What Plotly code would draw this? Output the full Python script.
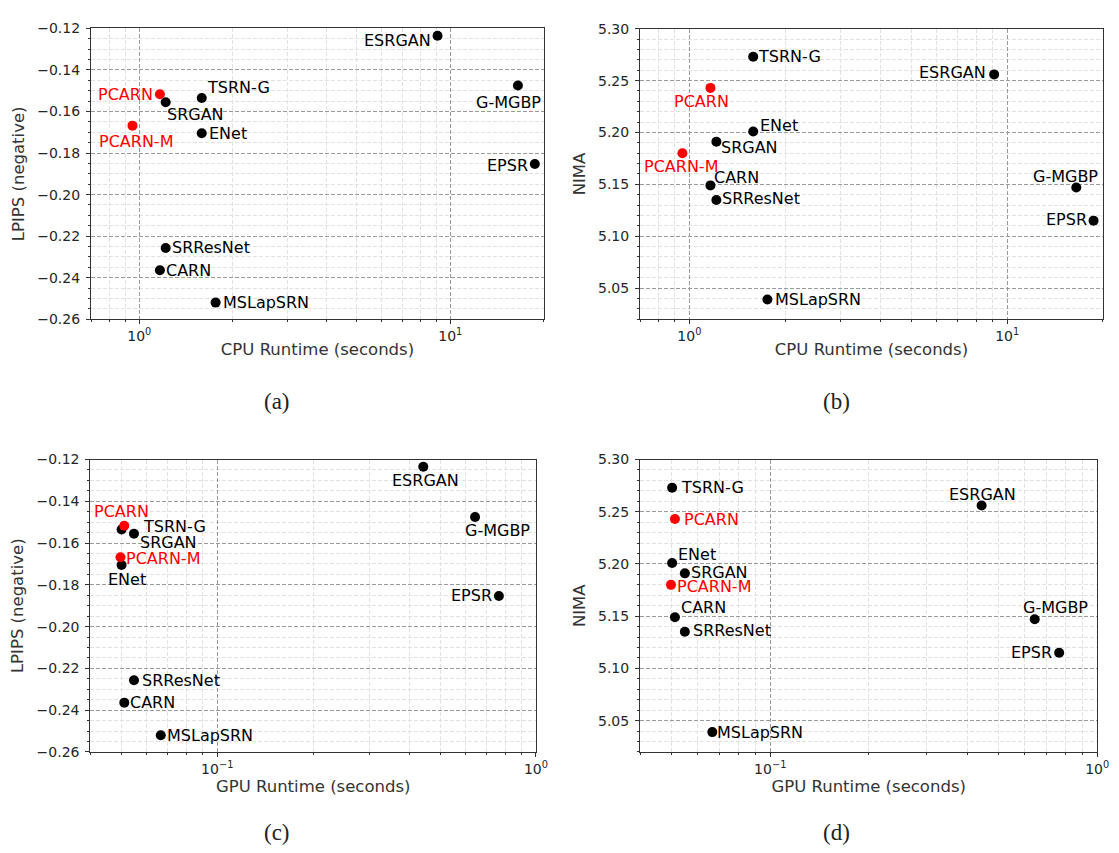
import numpy as np
import plotly.graph_objects as go

# ---------------- data ----------------
methods = ["ESRGAN", "G-MGBP", "EPSR", "PCARN", "SRGAN", "TSRN-G",
           "PCARN-M", "ENet", "SRResNet", "CARN", "MSLapSRN"]
cpu_runtime = [9.1, 16.5, 18.7, 1.165, 1.216, 1.588, 0.951, 1.588, 1.216, 1.165, 1.76]
gpu_runtime = [0.443, 0.644, 0.765, 0.0511, 0.0548, 0.0501, 0.0497, 0.0501, 0.0548, 0.0511, 0.0665]
lpips_neg = [-0.1235, -0.1475, -0.1853, -0.1517, -0.1555, -0.1535, -0.1668,
             -0.1705, -0.2257, -0.2364, -0.2520]
nima = [5.256, 5.147, 5.115, 5.243, 5.191, 5.273, 5.180, 5.201, 5.135, 5.149, 5.039]
highlight = ["PCARN", "PCARN-M"]

lpips_ticks = [-0.26, -0.24, -0.22, -0.20, -0.18, -0.16, -0.14, -0.12]
nima_ticks = [5.05, 5.10, 5.15, 5.20, 5.25, 5.30]
cpu_ticks = [1, 10]
cpu_ticktext = ["10<sup>0</sup>", "10<sup>1</sup>"]
gpu_ticks = [0.1, 1]
gpu_ticktext = ["10<sup>\u22121</sup>", "10<sup>0</sup>"]
captions = ["(a)", "(b)", "(c)", "(d)"]

# ---------------- label placement (style) ----------------
# (xanchor, xshift, yshift) in pixels
offs_a = {"ESRGAN": ("right", -6, -5), "G-MGBP": ("center", -9, -17),
          "EPSR": ("right", -6, -1), "PCARN": ("right", -6, 0),
          "SRGAN": ("left", 0, -12), "TSRN-G": ("left", 4, 11),
          "PCARN-M": ("center", 4, -16), "ENet": ("left", 6, 0),
          "SRResNet": ("left", 5, 0), "CARN": ("left", 5, 0),
          "MSLapSRN": ("left", 6, 0)}
offs_b = {"TSRN-G": ("left", 4, 0), "ESRGAN": ("right", -7, 2),
          "PCARN": ("center", -9, -14), "ENet": ("left", 6, 6),
          "SRGAN": ("left", 4, -6), "PCARN-M": ("center", -1, -13),
          "CARN": ("left", 3, 8), "SRResNet": ("left", 5, 1),
          "G-MGBP": ("center", -11, 11), "EPSR": ("right", -6, 1),
          "MSLapSRN": ("left", 7, 0)}
offs_c = {"ESRGAN": ("center", 2, -14), "G-MGBP": ("center", 22, -14),
          "EPSR": ("right", -6, 0), "PCARN": ("center", -3, 14),
          "TSRN-G": ("left", 20, 3), "SRGAN": ("left", 5, -9),
          "PCARN-M": ("left", 5, -1), "ENet": ("center", 5, -14),
          "SRResNet": ("left", 7, 0), "CARN": ("left", 5, 0),
          "MSLapSRN": ("left", 5, 0)}
offs_d = {"TSRN-G": ("left", 8, 0), "ESRGAN": ("center", 1, 11),
          "PCARN": ("left", 8, 0), "ENet": ("left", 5, 8),
          "SRGAN": ("left", 5, 1), "PCARN-M": ("left", 5, -2),
          "CARN": ("left", 5, 10), "SRResNet": ("left", 7, 1),
          "G-MGBP": ("center", 21, 12), "EPSR": ("right", -6, 0),
          "MSLapSRN": ("left", 4, 0)}

W, H = 1119, 853
def dom(p0, p1, total, flip=False):
    if flip:
        return [1 - p1 / total, 1 - p0 / total]
    return [p0 / total, p1 / total]

panels = [
    dict(x=cpu_runtime, y=lpips_neg, xr=[0.7, 20], yr=[-0.26, -0.12],
         xd=dom(84, 541.7, W), yd=dom(12.7, 309, H, True), offs=offs_a,
         xt=cpu_ticks, xtt=cpu_ticktext, yt=lpips_ticks, ytitle="LPIPS (negative)",
         xtitle="CPU Runtime (seconds)", yminor=0.005, cap=(272, 393)),
    dict(x=cpu_runtime, y=nima, xr=[0.7, 20], yr=[5.02, 5.30],
         xd=dom(639, 1106.7, W), yd=dom(13, 309, H, True), offs=offs_b,
         xt=cpu_ticks, xtt=cpu_ticktext, yt=nima_ticks, ytitle="NIMA",
         xtitle="CPU Runtime (seconds)", yminor=0.01, cap=(837, 393)),
    dict(x=gpu_runtime, y=lpips_neg, xr=[0.04, 1.0], yr=[-0.26, -0.12],
         xd=dom(83.3, 533.7, W), yd=dom(452, 750, H, True), offs=offs_c,
         xt=gpu_ticks, xtt=gpu_ticktext, yt=lpips_ticks, ytitle="LPIPS (negative)",
         xtitle="GPU Runtime (seconds)", yminor=0.005, cap=(272, 832)),
    dict(x=gpu_runtime, y=nima, xr=[0.04, 1.0], yr=[5.02, 5.30],
         xd=dom(639, 1101, W), yd=dom(452, 750, H, True), offs=offs_d,
         xt=gpu_ticks, xtt=gpu_ticktext, yt=nima_ticks, ytitle="NIMA",
         xtitle="GPU Runtime (seconds)", yminor=0.01, cap=(837, 832)),
]

fig = go.Figure()
annotations = []
tick_font = dict(family="DejaVu Sans", size=14, color="#262626")
title_font = dict(family="DejaVu Sans", size=16.5, color="#333")
lab_font = 16

def fmt(v):
    s = f"{abs(v):.2f}"
    return ("\u2212" + s) if v < 0 else s

def log_minor(lo, hi):
    vals = []
    for e in range(int(np.floor(np.log10(lo))) - 1, int(np.ceil(np.log10(hi))) + 1):
        for d in range(2, 10):
            v = d * 10.0 ** e
            if lo <= v <= hi:
                vals.append(v)
    return vals

for i, p in enumerate(panels):
    n = "" if i == 0 else str(i + 1)
    xa, ya = "x" + n, "y" + n
    black = [j for j, m in enumerate(methods) if m not in highlight]
    red = [j for j, m in enumerate(methods) if m in highlight]
    for idx, col in ((black, "black"), (red, "#ff0000")):
        fig.add_trace(go.Scatter(
            x=[p["x"][j] for j in idx], y=[p["y"][j] for j in idx],
            mode="markers", marker=dict(size=10, color=col, line=dict(width=0)),
            xaxis=xa, yaxis=ya, showlegend=False, hoverinfo="skip"))
    for j, m in enumerate(methods):
        anc, xs, ys = p["offs"][m]
        annotations.append(dict(
            x=np.log10(p["x"][j]), y=p["y"][j], xref=xa, yref=ya, text=m,
            showarrow=False, xanchor=anc, yanchor="middle", xshift=xs, yshift=ys,
            font=dict(family="DejaVu Sans", size=lab_font,
                      color="#ff0000" if m in highlight else "black"),
            borderpad=0))
    lo, hi = p["yr"]
    k = int(round((hi - lo) / p["yminor"]))
    yminor_vals = [round(lo + q * p["yminor"], 4) for q in range(k + 1)]
    yminor_vals = [v for v in yminor_vals if all(abs(v - t) > 1e-6 for t in p["yt"])]
    axis_common = dict(showline=True, linecolor="#333", linewidth=1.3, mirror=True,
                       ticks="outside", ticklen=4, tickwidth=1, tickcolor="#333",
                       tickfont=tick_font, zeroline=False,
                       showgrid=True, gridcolor="#9a9a9a", griddash="4px,2px", gridwidth=1)
    minor_common = dict(tickmode="array", ticks="outside", ticklen=2, tickcolor="#333",
                        showgrid=True, gridcolor="#e2e2e2", griddash="4px,2px", gridwidth=1)
    fig.layout["xaxis" + n] = dict(
        type="log", range=[np.log10(p["xr"][0]), np.log10(p["xr"][1])],
        domain=p["xd"], anchor=ya, tickmode="array", tickvals=p["xt"], ticktext=p["xtt"],
        title=dict(text=p["xtitle"], font=title_font, standoff=0),
        ticklabelstandoff=0,
        minor=dict(tickvals=log_minor(*p["xr"]), **minor_common),
        **axis_common)
    fig.layout["yaxis" + n] = dict(
        range=p["yr"], domain=p["yd"], anchor=xa, tickmode="array",
        tickvals=p["yt"], ticktext=[fmt(v) for v in p["yt"]],
        title=dict(text=p["ytitle"], font=title_font, standoff=8),
        ticklabelstandoff=3,
        minor=dict(tickvals=yminor_vals, **minor_common),
        **axis_common)
    cx, cy = p["cap"]
    annotations.append(dict(x=cx / W, y=1 - cy / H, xref="paper", yref="paper",
                            text=captions[i], showarrow=False, xanchor="center",
                            yanchor="middle",
                            font=dict(family="Liberation Serif", size=23, color="#222")))

fig.update_layout(width=W, height=H, margin=dict(l=0, r=0, t=0, b=0),
                  paper_bgcolor="white", plot_bgcolor="white",
                  annotations=annotations, showlegend=False)
fig.write_html("out.html")
